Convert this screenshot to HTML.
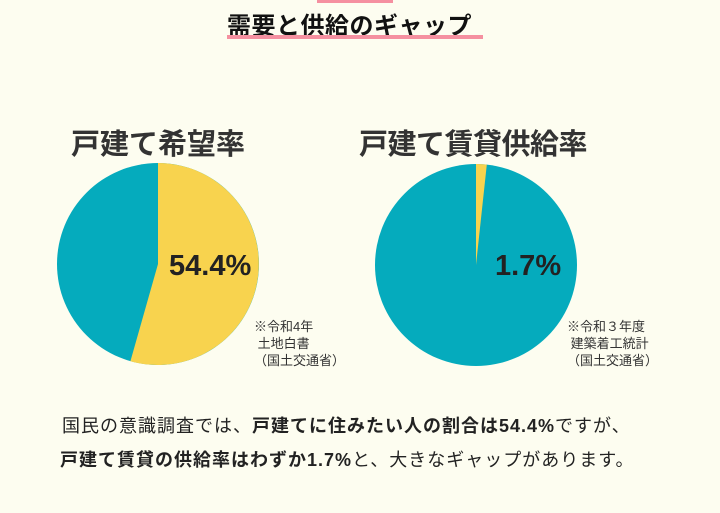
<!DOCTYPE html>
<html><head><meta charset="utf-8"><style>
body{margin:0;width:720px;height:513px;background:#fdfdf0;overflow:hidden;position:relative;font-family:"Liberation Sans","Noto Sans CJK JP",sans-serif;color:#222}
.a{position:absolute;white-space:nowrap}
</style></head><body>
<div class="a" style="left:317px;top:0;width:76px;height:3px;background:#f590a0"></div>
<div class="a" style="left:227px;top:6px;font-size:24px;font-weight:bold;letter-spacing:0.5px;color:#111">需要と供給のギャップ</div>
<div class="a" style="left:227px;top:35px;width:256px;height:4px;background:#f590a0"></div>
<div class="a" style="left:71px;top:121px;font-size:29px;font-weight:bold;color:#333;letter-spacing:0px">戸建て希望率</div>
<div class="a" style="left:359px;top:121px;font-size:29px;font-weight:bold;color:#333;letter-spacing:-0.5px">戸建て賃貸供給率</div>
<svg class="a" style="left:0;top:0" width="720" height="513">
<circle cx="158" cy="264" r="101" fill="#05abbd"/>
<path d="M158 264 L158 163 A101 101 0 1 1 130.4 361.2 Z" fill="#f8d34e"/>
<circle cx="476" cy="265" r="101" fill="#05abbd"/>
<path d="M476 265 L476 164 A101 101 0 0 1 486.8 164.6 Z" fill="#f8d34e"/>
<text x="169" y="275" font-size="29" font-weight="bold" fill="#222" font-family="Liberation Sans,sans-serif">54.4%</text>
<text x="495" y="275" font-size="29" font-weight="bold" fill="#222" font-family="Liberation Sans,sans-serif">1.7%</text>
</svg>
<div class="a" style="left:254px;top:318px;font-size:13px;line-height:17px;color:#333">※令和4年<br>&nbsp;土地白書<br>（国土交通省）</div>
<div class="a" style="left:567px;top:318px;font-size:13px;line-height:17px;color:#333">※令和３年度<br>&nbsp;建築着工統計<br>（国土交通省）</div>
<div class="a" style="left:62px;top:412px;font-size:18px;letter-spacing:1px;color:#222">国民の意識調査では、<b>戸建てに住みたい人の割合は54.4%</b>ですが、</div>
<div class="a" style="left:60px;top:446px;font-size:18px;letter-spacing:1px;color:#222"><b>戸建て賃貸の供給率はわずか1.7%</b>と、大きなギャップがあります。</div>
</body></html>
